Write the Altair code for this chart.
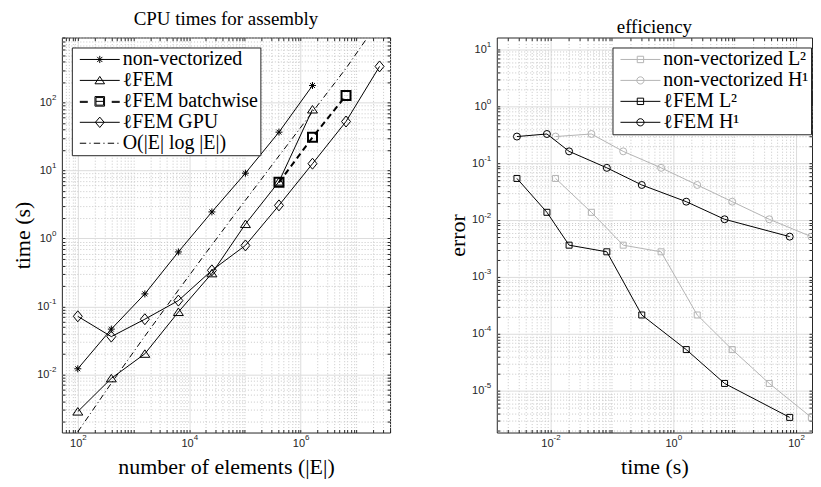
import altair as alt
import pandas as pd

# ---------------- data ----------------
elements = [1e2, 4e2, 1.6e3, 6.4e3, 2.56e4, 1.024e5, 4.096e5, 1.6384e6, 6.5536e6, 2.62144e7]
t_nonvec = [0.0121, 0.0464, 0.153, 0.634, 2.46, 9.14, 36.7, 178]
t_lfem = [0.00284, 0.00875, 0.0201, 0.0828, 0.307, 1.63, 6.86, 79]
t_batch = [6.7, 30.8, 127]          # at elements 4.1e5, 1.6e6, 6.6e6
t_gpu = [0.0716, 0.036, 0.0649, 0.122, 0.34, 0.79, 3.07, 12.6, 52.6, 340]
# reference slope line O(|E| log|E|), last point where it leaves the top of the axes
ref_elements = [1e2, 4e2, 1.6e3, 6.4e3, 2.56e4, 1.024e5, 4.096e5, 1.6384e6, 6.5536e6, 1.55e7]
t_ref = [0.00143, 0.00743, 0.0366, 0.174, 0.806, 3.66, 16.4, 72.7, 319, 880]

err_L2 = [0.0538, 0.01365, 0.00361, 0.00276, 0.000214, 5.27e-5, 1.34e-5, 3.39e-6]
err_H1 = [0.293, 0.325, 0.161, 0.0826, 0.0413, 0.021, 0.0103, 0.0051]

left_names = ["non-vectorized", "ℓFEM", "ℓFEM batchwise", "ℓFEM GPU", "O(|E| log |E|)"]
right_names = ["non-vectorized L²", "non-vectorized H¹", "ℓFEM L²", "ℓFEM H¹"]

SERIF = "Liberation Serif"
SANS = "Liberation Sans"
AX = "#262626"
GRAY = "#b4b4b4"


def long_df(names, xs_list, ys_list):
    rows = []
    for n, xs, ys in zip(names, xs_list, ys_list):
        for a, b in zip(xs, ys):
            rows.append({"series": n, "x": a, "y": b})
    return pd.DataFrame(rows)


left_df = long_df(left_names,
                  [elements[:8], elements[:8], elements[6:9], elements[:10], ref_elements],
                  [t_nonvec, t_lfem, t_batch, t_gpu, t_ref])
right_df = long_df(right_names,
                   [t_nonvec, t_nonvec, t_lfem, t_lfem],
                   [err_L2, err_H1, err_L2, err_H1])


def tick_values(lo, hi):
    out = []
    for e in range(-8, 10):
        for m in range(1, 10):
            v = m * 10.0 ** e
            if lo <= v <= hi:
                out.append(v)
    return out


L = "(log(datum.value)/LN10)"


def major(every2):
    t = f"abs({L} - round({L})) < 0.001"
    if every2:
        t += f" && round({L}) % 2 == 0"
    return t


NEG = "datum.value < 0.9"


def grid_axis(orient, values, every2):
    m = major(every2)
    return alt.Axis(
        orient=orient, values=values, grid=True,
        gridColor={"condition": {"test": m, "value": "#dcdcdc"}, "value": "#c8c8c8"},
        gridDash={"condition": {"test": m, "value": []}, "value": [1, 2]},
        gridWidth=1, ticks=False, domain=False, labels=False, title=None,
    )


def base_label_axis(orient, values, every2, title):
    m = major(every2)
    common = dict(orient=orient, values=values, grid=False, ticks=False, domain=False,
                  labelExpr=f"({m}) ? '10' : ''", labelFont=SANS, labelFontSize=11,
                  labelColor=AX, labelOverlap=False, labelFlush=False,
                  title=title, titleFont=SERIF, titleFontSize=22, titleFontWeight="normal",
                  titleColor="black")
    if orient == "bottom":
        return alt.Axis(labelAlign="right", labelBaseline="top", labelPadding=5, titlePadding=8,
                        labelOffset={"condition": {"test": NEG, "value": 2.5}, "value": 4},
                        **common)
    return alt.Axis(labelAlign="right", labelBaseline="middle", titlePadding=2,
                    labelPadding={"condition": {"test": NEG, "value": 13}, "value": 10.5},
                    **common)


def exp_label_axis(orient, values, every2):
    m = major(every2)
    common = dict(orient=orient, values=values, grid=False, ticks=False, domain=False,
                  labelExpr=f"({m}) ? '' + round({L}) : ''", labelFont=SANS, labelFontSize=8,
                  labelColor=AX, labelOverlap=False, labelFlush=False, title=None)
    if orient == "bottom":
        return alt.Axis(labelAlign="left", labelBaseline="top", labelPadding=1,
                        labelOffset={"condition": {"test": NEG, "value": 2.5}, "value": 4},
                        **common)
    return alt.Axis(labelAlign="right", labelBaseline="middle", labelPadding=6,
                    labelOffset=-5, **common)


def tick_axis(orient, values):
    return alt.Axis(orient=orient, values=values, grid=False, labels=False, domain=False,
                    ticks=True, tickSize=3, tickColor=AX, tickWidth=1, offset=-3, title=None)


# symbol paths (legend: line + marker, unit = 4px)
LINE = "M-5,0H5"
P_STAR = "M-1,0H1M0,-1V1M-0.7,-0.7L0.7,0.7M-0.7,0.7L0.7,-0.7"
P_TRI = "M0,-0.8L1,0.7L-1,0.7Z"
P_DIAM = "M0,-1.1L0.9,0L0,1.1L-0.9,0Z"

L_STAR = LINE + "M-0.9,0H0.9M0,-0.9V0.9M-0.65,-0.65L0.65,0.65M-0.65,0.65L0.65,-0.65"
L_TRI = LINE + "M0,-1L1.2,0.85L-1.2,0.85Z"
L_BATCH = ("M-5,0H-3M-5,0.25H-3M3,0H5M3,0.25H5"
           "M-1.2,-1.2H1.2V1.2H-1.2ZM-0.95,-0.95H0.95V0.95H-0.95ZM-0.95,0H0.95")
L_DIAM = LINE + "M0,-1.3L1.1,0L0,1.3L-1.1,0Z"
L_DASHDOT = "M-5,0H-3.4M-2.6,0H-2.3M-1.5,0H0.1M0.9,0H1.2M2,0H3.6M4.4,0H4.7"
L_SQ = LINE + "M-0.8,-0.8H0.8V0.8H-0.8Z"
L_CIRC = LINE + "M-0.9,0A0.9,0.9 0 1,0 0.9,0A0.9,0.9 0 1,0 -0.9,0"

PLOT_H = 396


def panel(df, styles, names, leg_paths, leg_cols, xdom, ydom, xtitle, ytitle, title,
          width, legx, legy):
    xs = alt.Scale(type="log", domain=xdom, nice=False)
    ys = alt.Scale(type="log", domain=ydom, nice=False)
    xv = tick_values(*xdom)
    yv = tick_values(*ydom)
    base = alt.Chart(df)

    def enc(ax, ay):
        return dict(x=alt.X("x:Q", scale=xs, axis=ax), y=alt.Y("y:Q", scale=ys, axis=ay))

    def carrier(ax, ay):
        return base.mark_point(opacity=0, clip=True).encode(**enc(ax, ay)).transform_filter("false")

    layers = [
        carrier(grid_axis("bottom", xv, True), grid_axis("left", yv, False)),
        carrier(base_label_axis("bottom", xv, True, xtitle), base_label_axis("left", yv, False, ytitle)),
        carrier(exp_label_axis("bottom", xv, True), exp_label_axis("left", yv, False)),
        carrier(tick_axis("bottom", xv), tick_axis("left", yv)),
        carrier(tick_axis("top", xv), tick_axis("right", yv)),
    ]
    for st in styles:
        d = base.transform_filter(alt.datum.series == st["name"])
        lk = dict(color=st["color"], strokeWidth=st.get("lw", 1), clip=True)
        if "dash" in st:
            lk["strokeDash"] = st["dash"]
        layers.append(d.mark_line(**lk).encode(**enc(None, None)))
        if "shape" in st:
            layers.append(d.mark_point(filled=False, opacity=1, shape=st["shape"], size=st["size"],
                                       color=st["color"], strokeWidth=st.get("lw", 1), clip=True)
                          .encode(**enc(None, None)))
    leg = alt.Legend(title=None, orient="none", legendX=legx, legendY=legy,
                     symbolSize=64, symbolStrokeWidth=1, symbolOffset=16, labelOffset=13,
                     symbolFillColor="transparent",
                     labelFont=SERIF, labelFontSize=20, labelColor="black", labelLimit=500,
                     strokeColor=AX, fillColor="white", padding=2, rowPadding=1, cornerRadius=0)
    layers.append(
        base.mark_point(filled=False, opacity=1, clip=True).encode(
            **enc(None, None),
            shape=alt.Shape("series:N", scale=alt.Scale(domain=names, range=leg_paths), legend=leg),
            color=alt.Color("series:N", scale=alt.Scale(domain=names, range=leg_cols), legend=leg),
        ).transform_filter("false")
    )
    return alt.layer(*layers).resolve_axis(x="independent", y="independent").properties(
        width=width, height=PLOT_H,
        title=alt.Title(title, font=SERIF, fontSize=19, fontWeight="normal", color="black",
                        frame="group", anchor="middle", offset=0),
    )


left_styles = [
    {"name": left_names[0], "color": "black", "shape": P_STAR, "size": 49},
    {"name": left_names[1], "color": "black", "shape": P_TRI, "size": 100},
    {"name": left_names[2], "color": "black", "shape": "square", "size": 81, "lw": 2, "dash": [6, 4]},
    {"name": left_names[3], "color": "black", "shape": P_DIAM, "size": 100},
    {"name": left_names[4], "color": "black", "dash": [6, 3, 1, 3]},
]
right_styles = [
    {"name": right_names[0], "color": GRAY, "shape": "square", "size": 36},
    {"name": right_names[1], "color": GRAY, "shape": "circle", "size": 49},
    {"name": right_names[2], "color": "black", "shape": "square", "size": 36},
    {"name": right_names[3], "color": "black", "shape": "circle", "size": 49},
]

left = panel(left_df, left_styles, left_names,
             [L_STAR, L_TRI, L_BATCH, L_DIAM, L_DASHDOT], ["black"] * 5,
             [10 ** 1.714, 10 ** 7.607], [10 ** -2.855, 10 ** 2.957],
             "number of elements (|E|)", "time (s)", "CPU times for assembly", 329, 10, 10)
right = panel(right_df, right_styles, right_names,
              [L_SQ, L_CIRC, L_SQ, L_CIRC], [GRAY, GRAY, "black", "black"],
              [10 ** -2.875, 10 ** 2.261], [10 ** -5.736, 10 ** 1.208],
              "time (s)", "error", "efficiency", 316, 116, 10)

chart = alt.hconcat(left, right, spacing=51).resolve_scale(
    x="independent", y="independent", color="independent", shape="independent"
).properties(
    padding={"left": 3, "top": 0, "right": 0, "bottom": 0}
).configure_view(stroke=AX, strokeWidth=1)

chart.save("out.html", embed_options={"renderer": "svg", "actions": False})
